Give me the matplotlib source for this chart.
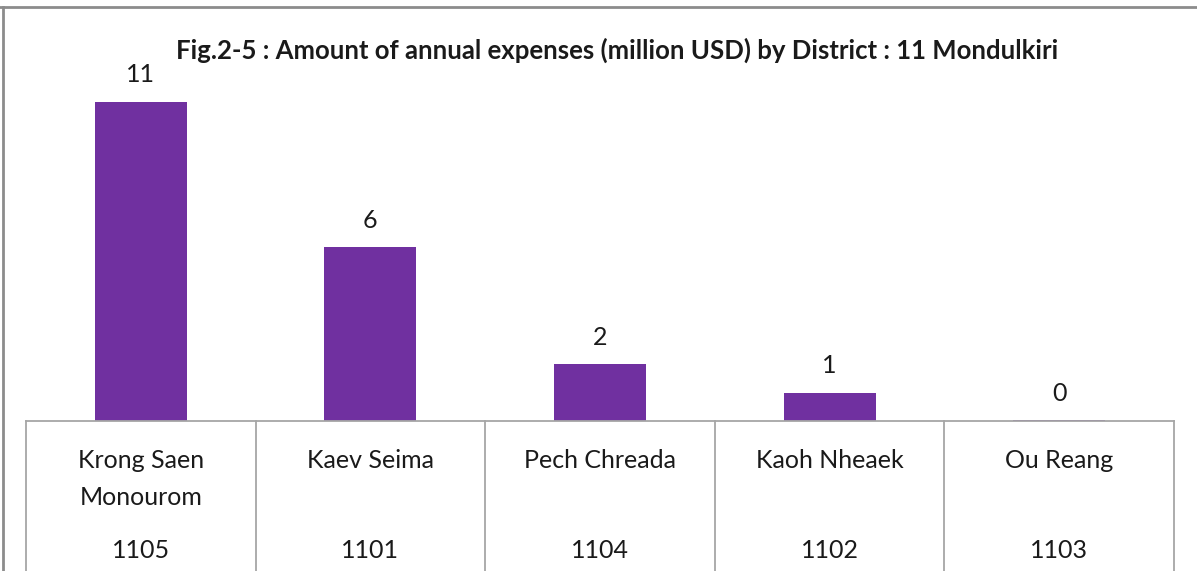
import matplotlib
matplotlib.use("Agg")
import matplotlib.pyplot as plt
import matplotlib.transforms as mtransforms
from matplotlib.lines import Line2D

# ---- data ----
districts = ["Krong Saen\nMonourom", "Kaev Seima", "Pech Chreada", "Kaoh Nheaek", "Ou Reang"]
codes = ["1105", "1101", "1104", "1102", "1103"]
expenses = [11.0, 6.0, 1.95, 0.97, 0.02]
title = "Fig.2-5 : Amount of annual expenses (million USD) by District : 11 Mondulkiri"

W, H = 1197, 571
fig = plt.figure(figsize=(W / 100, H / 100), dpi=100)
fig.patch.set_facecolor("white")

# axes placed in pixel coords
left_px, right_px, base_px, top_px = 26, 1174, 421, 60
ax = fig.add_axes([left_px / W, 1 - base_px / H, (right_px - left_px) / W, (base_px - top_px) / H])
ax.set_facecolor("none")

bar_color = "#7030A0"
line_color = "#a6a6a6"
text_color = "#1a1a1a"
font = "Lato"
fs = 18

x = list(range(len(districts)))
bars = ax.bar(x, expenses, width=0.4, color=bar_color, zorder=2)
ax.set_xlim(-0.5, len(districts) - 0.5)
ax.set_ylim(0, expenses[0] * (base_px - top_px) / (base_px - 102))
ax.axis("off")

for xi, v in zip(x, expenses):
    ax.annotate(f"{v:.0f}", xy=(xi, v), xytext=(0, 27), textcoords="offset pixels",
                ha="center", va="center", fontsize=fs, family=font, color=text_color)

# baseline and table
ax.axhline(0, color=line_color, lw=1.3, zorder=3, clip_on=False)
btrans = mtransforms.blended_transform_factory(ax.transData, fig.transFigure)
for b in range(len(districts) + 1):
    xb = b - 0.5
    fig.add_artist(Line2D([xb, xb], [1 - base_px / H, 0], transform=btrans,
                          color=line_color, lw=1.3))
for xi, name, code in zip(x, districts, codes):
    fig.text(xi, 1 - 449 / H, name, transform=btrans, ha="center", va="top",
             fontsize=fs, family=font, color=text_color, linespacing=1.72)
    fig.text(xi, 1 - 550 / H, code, transform=btrans, ha="center", va="center",
             fontsize=fs, family=font, color=text_color)

# title
fig.text(617.5 / W, 1 - 50 / H, title, ha="center", va="center", fontsize=18.5,
         fontweight="bold", family=font, color=text_color)

# outer frame (top and left)
fig.add_artist(Line2D([0, 1], [1 - 7 / H, 1 - 7 / H], transform=fig.transFigure,
                      color="#8c8c8c", lw=2))
fig.add_artist(Line2D([3 / W, 3 / W], [1 - 7 / H, 0], transform=fig.transFigure,
                      color="#8c8c8c", lw=2))

fig.savefig("out.png", dpi=100)
